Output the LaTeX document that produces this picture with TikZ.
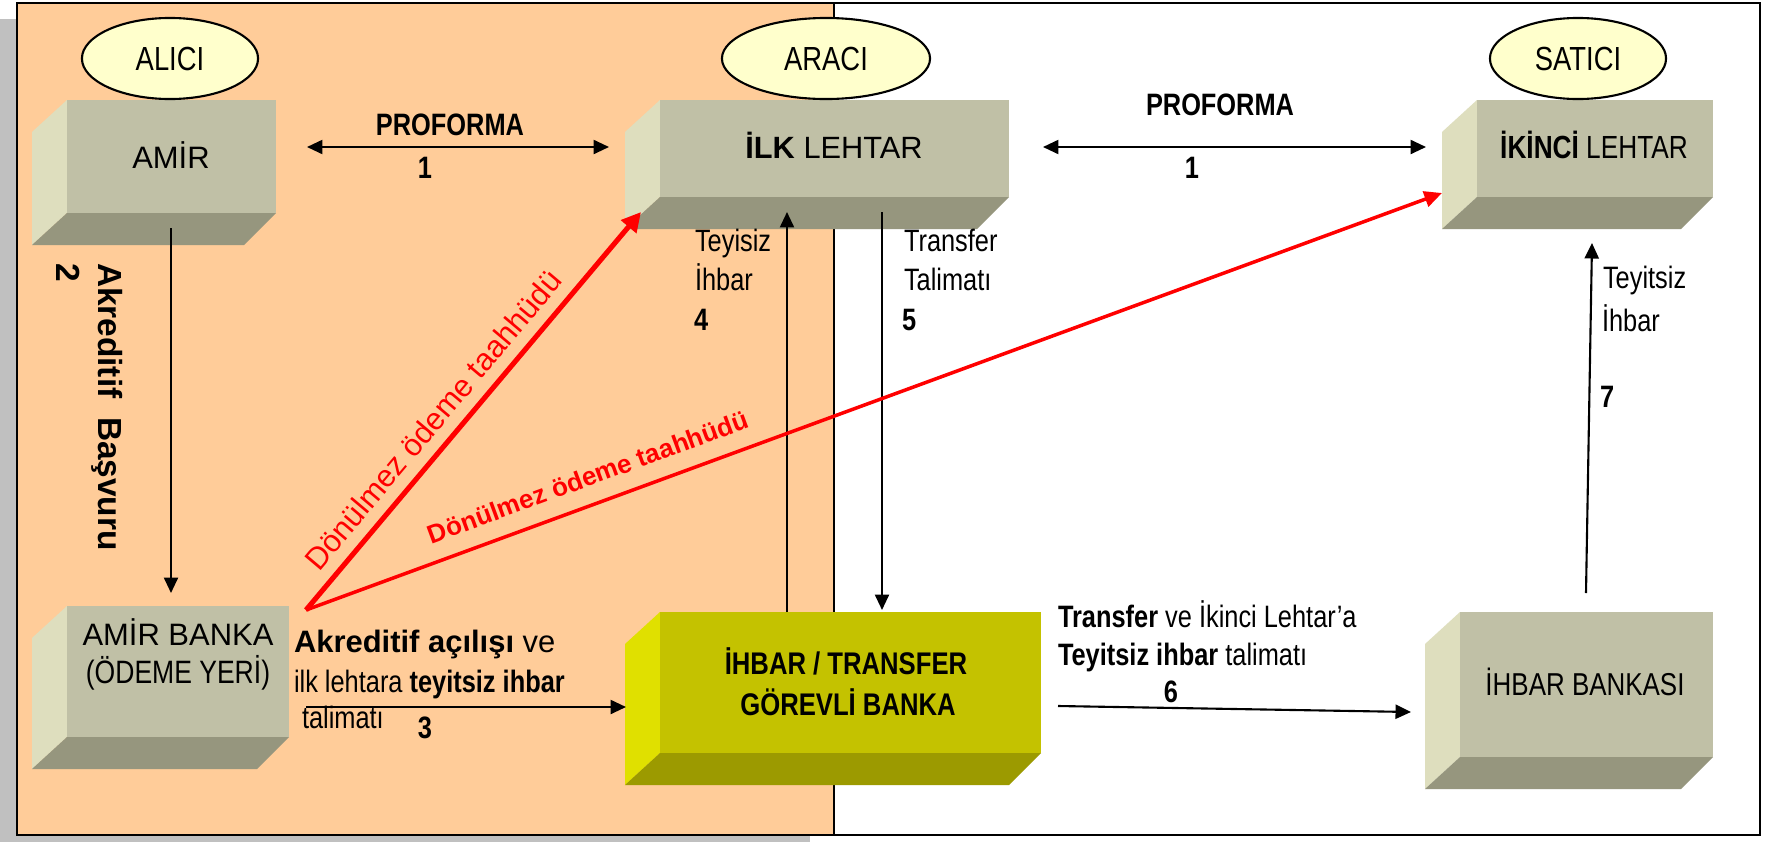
\documentclass[tikz,border=0pt]{standalone}
\usepackage{fontspec}
\setmainfont{Liberation Sans}
\newfontfamily\narrowfont[FakeStretch=0.82]{Liberation Sans}
\usetikzlibrary{arrows.meta,shapes.geometric,fit}
\definecolor{peach}{RGB}{255,204,153}
\definecolor{ovalfill}{RGB}{255,255,204}
\definecolor{gfront}{RGB}{192,192,166}
\definecolor{gside}{RGB}{222,222,190}
\definecolor{gbottom}{RGB}{150,150,126}
\definecolor{yfront}{RGB}{196,194,0}
\definecolor{yside}{RGB}{224,224,0}
\definecolor{ybottom}{RGB}{156,154,0}
\definecolor{shadowgray}{RGB}{192,192,192}
\newcommand\sz[1]{\fontsize{#1}{#1}\selectfont}
\newcommand\cubebox[6]{%
  \fill[#6side] (#2-35,#3+32) -- (#2,#3) -- (#2,#5) -- (#2-35,#5+32) -- cycle;
  \fill[#6bottom] (#2,#5) -- (#4,#5) -- (#4-32,#5+32) -- (#2-35,#5+32) -- cycle;
  \fill[#6front] (#2,#3) rectangle (#4,#5);
  \coordinate (#1-nw) at (#2,#3);
  \coordinate (#1-se) at (#4,#5);
  \node[fit=(#1-nw)(#1-se), inner sep=0pt] (#1) {};
}
\tikzset{
  txt/.style={inner sep=0pt, outer sep=0pt},
  oval/.style={ellipse, draw, line width=0.6pt, fill=ovalfill, inner sep=0pt,
    minimum height=0.81cm, font=\narrowfont\sz{9.5pt}},
  arr/.style={line width=0.6pt, -{Triangle[length=4.4pt,width=4pt]}},
  darr/.style={line width=0.6pt, {Triangle[length=4.4pt,width=4pt]}-{Triangle[length=4.4pt,width=4pt]}},
  redthick/.style={draw=red, line width=1.45pt, -{Triangle[length=5.5pt,width=5.5pt]}},
  redthin/.style={draw=red, line width=1pt, -{Triangle[length=5pt,width=4.5pt]}},
  nar/.style={txt, font=\narrowfont\sz{8.8pt}},
  narb/.style={txt, font=\narrowfont\bfseries\sz{8.8pt}},
  reg/.style={txt, font=\sz{8.8pt}},
}
\begin{document}
\begin{tikzpicture}[x=0.01cm,y=-0.01cm]
\useasboundingbox (0,0) rectangle (1769,842);
% background, shadow and frame
\fill[shadowgray] (0,19) rectangle (810,842);
\fill[white] (17,3) rectangle (1760,835);
\fill[peach] (17,3) rectangle (834,835);
\draw[line width=0.5pt] (834,3) -- (834,835);
\draw[line width=0.8pt] (17,3) rectangle (1760,835);

% boxes
\cubebox{amir}{67}{100}{276}{213}{g}
\cubebox{ilk}{660}{100}{1009}{197}{g}
\cubebox{ikinci}{1477}{100}{1713}{197}{g}
\cubebox{amirb}{67}{606}{289}{737}{g}
\cubebox{ihbar}{660}{612}{1041}{753}{y}
\cubebox{ihbank}{1460}{612}{1713}{757}{g}

% ovals
\node[oval, minimum width=1.76cm] (alici) at (170,58.5) {ALICI};
\node[oval, minimum width=2.08cm] (araci) at (826,58.5) {ARACI};
\node[oval, minimum width=1.76cm] (satici) at (1578,58.5) {SATICI};

% box texts
\node[reg, anchor=base] (tamir) at (171,168) {AMİR};
\node[txt, font=\sz{8.75pt}, anchor=base] (tilk) at (834,158) {\textbf{İLK} LEHTAR};
\node[nar, font=\narrowfont\sz{9.1pt}, anchor=base] (tikinci) at (1594,158) {\textbf{İKİNCİ} LEHTAR};
\node[reg, anchor=base] (tab1) at (178,645) {AMİR BANKA};
\node[nar, font=\narrowfont\sz{9.2pt}, anchor=base] (tab2) at (178,683) {(ÖDEME YERİ)};
\node[narb, font=\narrowfont\bfseries\sz{8.9pt}, anchor=base] (tih1) at (846,674) {İHBAR / TRANSFER};
\node[narb, font=\narrowfont\bfseries\sz{8.9pt}, anchor=base] (tih2) at (848,715) {GÖREVLİ BANKA};
\node[nar, font=\narrowfont\sz{9pt}, anchor=base] (tihb) at (1585,695) {İHBAR BANKASI};

% connector coordinates
\coordinate (p1a) at (307,147); \coordinate (p1b) at (609,147);
\coordinate (p2a) at (1043,147); \coordinate (p2b) at (1426,147);
\coordinate (a2s) at (171,228); \coordinate (a2e) at (171,593);
\coordinate (a3s) at (306,707); \coordinate (a3e) at (626,707);
\coordinate (a4s) at (787,612); \coordinate (a4e) at (787,212);
\coordinate (a5s) at (882,212); \coordinate (a5e) at (882,610);
\coordinate (a6s) at (1058,706); \coordinate (a6e) at (1411,712);
\coordinate (a7s) at (1586,593); \coordinate (a7e) at (1592,243);
\coordinate (rs) at (306,610);
\coordinate (r1e) at (641,212); \coordinate (r2e) at (1442,193);

% connectors
\draw[darr] (p1a) -- (p1b);
\draw[darr] (p2a) -- (p2b);
\draw[arr] (a2s) -- (a2e);
\draw[arr] (a3s) -- (a3e);
\draw[arr] (a4s) -- (a4e);
\draw[arr] (a5s) -- (a5e);
\draw[arr] (a6s) -- (a6e);
\draw[arr] (a7s) -- (a7e);
\draw[redthick] (rs) -- (r1e);
\draw[redthin] (rs) -- (r2e);

% labels
\node[narb, anchor=base] (prof1) at (450,135) {PROFORMA};
\node[narb, anchor=base] (n1a) at (425,178) {1};
\node[narb, anchor=base] (prof2) at (1220,115) {PROFORMA};
\node[narb, anchor=base] (n1b) at (1192,178) {1};
\node[txt, font=\bfseries\sz{9.5pt}, rotate=-90, anchor=base west] (akb) at (98,263) {Akreditif\ \ Başvuru};
\node[txt, font=\bfseries\sz{9.5pt}, rotate=-90, anchor=base west] (n2) at (57,263) {2};
\node[reg, anchor=base west] (t3a) at (294,652) {\textbf{Akreditif açılışı} ve};
\node[nar, anchor=base west] (t3b) at (294,692) {ilk lehtara \textbf{teyitsiz ihbar}};
\node[nar, anchor=base west] (t3c) at (302,728) {talimatı};
\node[narb, anchor=base] (n3) at (425,738) {3};
\node[nar, anchor=base west] (t4a) at (695,251) {Teyisiz};
\node[nar, anchor=base west] (t4b) at (695,290) {İhbar};
\node[narb, anchor=base west] (n4) at (694,330) {4};
\node[nar, anchor=base west] (t5a) at (904,251) {Transfer};
\node[nar, anchor=base west] (t5b) at (904,290) {Talimatı};
\node[narb, anchor=base west] (n5) at (902,330) {5};
\node[nar, anchor=base west] (t6a) at (1058,627) {\textbf{Transfer} ve İkinci Lehtar’a};
\node[nar, anchor=base west] (t6b) at (1058,665) {\textbf{Teyitsiz ihbar} talimatı};
\node[narb, anchor=base] (n6) at (1171,702) {6};
\node[nar, anchor=base west] (t7a) at (1603,288) {Teyitsiz};
\node[nar, anchor=base west] (t7b) at (1602,331) {İhbar};
\node[narb, anchor=base west] (n7) at (1600,407) {7};
\node[txt, text=red, font=\sz{8.8pt}, rotate=49.9] (rl1) at (433,420) {Dönülmez ödeme taahhüdü};
\node[txt, text=red, font=\bfseries\sz{7.4pt}, rotate=20.2] (rl2) at (588,477) {Dönülmez ödeme taahhüdü};
\end{tikzpicture}
\end{document}
